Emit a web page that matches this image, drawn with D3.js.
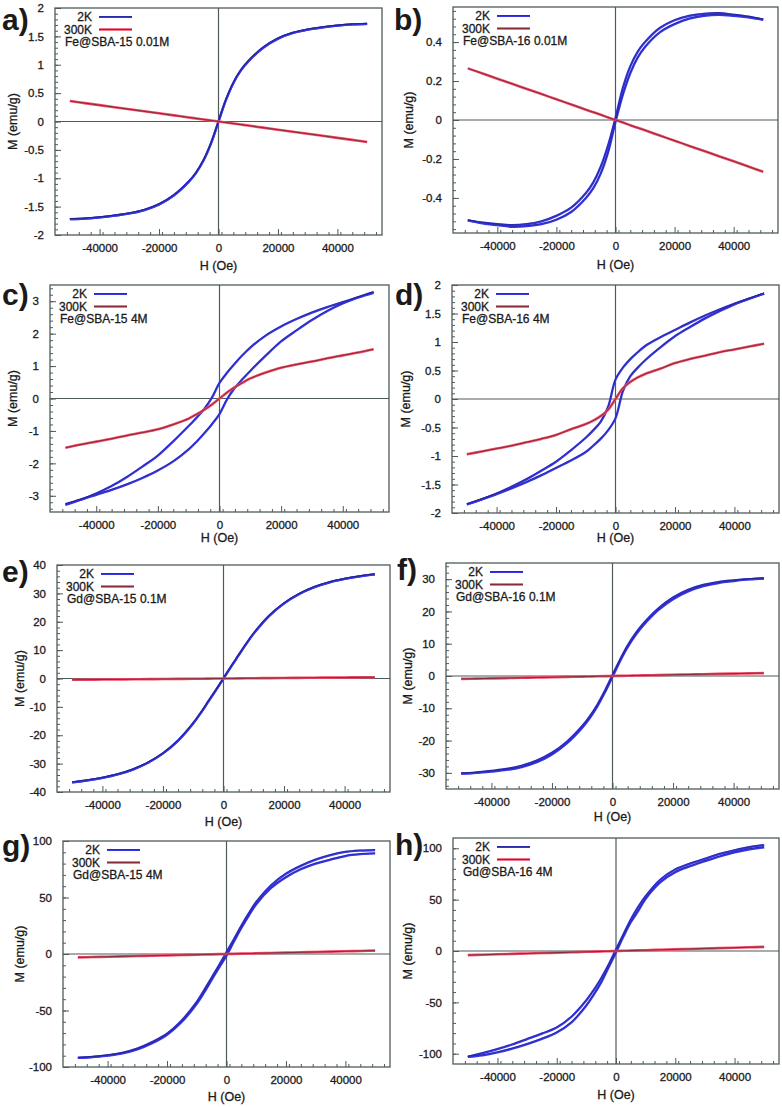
<!DOCTYPE html>
<html>
<head>
<meta charset="utf-8">
<script src="https://cdn.jsdelivr.net/npm/d3@7"></script>
<style>
  html, body { margin: 0; padding: 0; background: #fff; }
  svg { display: block; }
  text { font-family: "Liberation Sans", Arial, Helvetica, sans-serif; fill: #1a1a1a; }
</style>
</head>
<body>
<svg id="chart" width="782" height="1107"></svg>
<script>
// ---------------- DATA ----------------
// Field grid (Oe) shared by every curve
const H = [-50000,-45000,-40000,-35000,-30000,-25000,-20000,-15000,-10000,-7500,-5000,-2500,0,
           2500,5000,7500,10000,15000,20000,25000,30000,35000,40000,45000,50000];

const xTicks = [-40000,-20000,0,20000,40000];

// a) Fe@SBA-15 0.01M
const a2Kdesc = [-1.72,-1.71,-1.69,-1.66,-1.62,-1.56,-1.46,-1.30,-1.06,-0.90,-0.68,-0.38,0,0.38,0.68,0.90,1.06,1.30,1.46,1.56,1.62,1.66,1.69,1.71,1.72];
const a2Kasc  = [-1.72,-1.71,-1.69,-1.66,-1.62,-1.56,-1.46,-1.30,-1.06,-0.90,-0.68,-0.38,0,0.38,0.68,0.90,1.06,1.30,1.46,1.56,1.62,1.66,1.69,1.71,1.72];
const a300K   = [0.36,0.324,0.288,0.252,0.216,0.18,0.144,0.108,0.072,0.054,0.036,0.018,0,-0.018,-0.036,-0.054,-0.072,-0.108,-0.144,-0.18,-0.216,-0.252,-0.288,-0.324,-0.36];
const aYTicks = [-2,-1.5,-1,-0.5,0,0.5,1,1.5,2];

// b) Fe@SBA-16 0.01M
const b2Kdesc = [-0.515,-0.527,-0.535,-0.54,-0.535,-0.52,-0.492,-0.45,-0.375,-0.32,-0.24,-0.13,0.01,0.165,0.275,0.35,0.40,0.472,0.512,0.535,0.545,0.548,0.54,0.53,0.515];
const b2Kasc  = [-0.515,-0.53,-0.54,-0.548,-0.545,-0.535,-0.512,-0.472,-0.40,-0.35,-0.275,-0.165,-0.01,0.13,0.24,0.32,0.375,0.45,0.492,0.52,0.535,0.54,0.535,0.527,0.515];
const b300K   = [0.265,0.239,0.212,0.186,0.159,0.133,0.106,0.08,0.053,0.04,0.027,0.013,0,-0.013,-0.027,-0.04,-0.053,-0.08,-0.106,-0.133,-0.159,-0.186,-0.212,-0.239,-0.266];
const bYTicks = [-0.4,-0.2,0,0.2,0.4];

// c) Fe@SBA-15 4M
const c2Kdesc = [-3.28,-3.12,-2.93,-2.70,-2.42,-2.10,-1.76,-1.32,-0.85,-0.60,-0.33,0.02,0.48,0.80,1.08,1.34,1.57,1.94,2.22,2.45,2.65,2.82,2.97,3.12,3.26];
const c2Kasc  = [-3.26,-3.12,-2.97,-2.82,-2.65,-2.45,-2.22,-1.94,-1.57,-1.34,-1.08,-0.80,-0.48,-0.02,0.33,0.60,0.85,1.32,1.76,2.10,2.42,2.70,2.93,3.12,3.28];
const c300K   = [-1.52,-1.42,-1.33,-1.24,-1.14,-1.05,-0.95,-0.80,-0.62,-0.49,-0.35,-0.19,0,0.19,0.35,0.49,0.62,0.80,0.95,1.05,1.14,1.24,1.33,1.42,1.52];
const cYTicks = [-3,-2,-1,0,1,2,3];

// d) Fe@SBA-16 4M
const d2Kdesc = [-1.85,-1.76,-1.66,-1.54,-1.41,-1.26,-1.10,-0.90,-0.68,-0.55,-0.40,-0.14,0.34,0.55,0.70,0.82,0.93,1.08,1.21,1.34,1.46,1.57,1.67,1.76,1.85];
const d2Kasc  = [-1.85,-1.76,-1.67,-1.57,-1.46,-1.34,-1.21,-1.08,-0.93,-0.82,-0.70,-0.55,-0.34,0.14,0.40,0.55,0.68,0.90,1.10,1.26,1.41,1.54,1.66,1.76,1.85];
const d300K   = [-0.97,-0.92,-0.87,-0.82,-0.76,-0.70,-0.63,-0.53,-0.44,-0.38,-0.30,-0.19,0,0.19,0.30,0.38,0.44,0.53,0.63,0.70,0.76,0.82,0.87,0.92,0.97];
const dYTicks = [-2,-1.5,-1,-0.5,0,0.5,1,1.5,2];

// e) Gd@SBA-15 0.1M
const e2Kdesc = [-36.6,-35.9,-35.0,-33.8,-32.1,-29.7,-26.4,-21.9,-15.8,-12.1,-8.1,-4.1,0,4.2,8.2,12.2,15.9,22.0,26.5,29.8,32.2,33.9,35.1,36.0,36.7];
const e2Kasc  = [-36.6,-35.9,-35.0,-33.8,-32.1,-29.7,-26.4,-21.9,-15.8,-12.1,-8.1,-4.1,0,4.2,8.2,12.2,15.9,22.0,26.5,29.8,32.2,33.9,35.1,36.0,36.7];
const e300K   = [-0.45,-0.40,-0.36,-0.32,-0.27,-0.23,-0.18,-0.14,-0.09,-0.07,-0.05,-0.02,0,0.02,0.05,0.07,0.09,0.14,0.18,0.23,0.27,0.32,0.36,0.40,0.45];
const eYTicks = [-40,-30,-20,-10,0,10,20,30,40];

// f) Gd@SBA-16 0.1M
const f2Kdesc = [-30.2,-29.9,-29.4,-28.8,-27.8,-26.2,-23.8,-20.3,-15.5,-12.5,-8.9,-4.6,0.25,5.05,9.4,13.0,16.0,20.8,24.3,26.7,28.2,29.1,29.6,30.0,30.25];
const f2Kasc  = [-30.25,-30.0,-29.6,-29.1,-28.2,-26.7,-24.3,-20.8,-16.0,-13.0,-9.4,-5.05,-0.25,4.6,8.9,12.5,15.5,20.3,23.8,26.2,27.8,28.8,29.4,29.9,30.2];
const f300K   = [-0.9,-0.82,-0.74,-0.65,-0.56,-0.47,-0.38,-0.28,-0.19,-0.14,-0.09,-0.05,0,0.05,0.09,0.14,0.19,0.28,0.38,0.47,0.56,0.65,0.74,0.82,0.9];
const fYTicks = [-30,-20,-10,0,10,20,30];

// g) Gd@SBA-15 4M
const g2Kdesc = [-92,-91,-89.7,-87.5,-83.8,-78,-70.5,-58.7,-42.5,-32,-21,-10,1.5,13,25,36,46,60.8,71,78,83.5,87.5,90.3,91.5,92];
const g2Kasc  = [-92,-91.3,-90,-88,-84.5,-79,-71.5,-60,-44,-34,-23,-12,-1.5,11,23,34,44,58.4,68,75,80,83.5,86.7,88.3,89];
const g300K   = [-3,-2.7,-2.4,-2.1,-1.8,-1.5,-1.2,-0.9,-0.6,-0.45,-0.3,-0.15,0,0.15,0.3,0.45,0.6,0.9,1.2,1.5,1.8,2.1,2.4,2.7,3];
const gYTicks = [-100,-50,0,50,100];

// h) Gd@SBA-16 4M
const h2Kdesc = [-103,-99.5,-95.5,-91,-85.8,-80.5,-74.5,-64,-48,-38,-26.5,-13.5,1.5,16,30.7,43,53.4,69.6,79.3,85,89.6,94.5,98,101,103];
const h2Kasc  = [-103,-101.5,-98.7,-95,-90.6,-85.5,-79.3,-69.4,-53,-42.5,-30.5,-16,-1.5,14,28,39,50.8,67,76.7,82.5,87.4,92,96,99,101];
const h300K   = [-4,-3.6,-3.2,-2.8,-2.4,-2,-1.6,-1.2,-0.8,-0.6,-0.4,-0.2,0,0.2,0.4,0.6,0.8,1.2,1.6,2,2.4,2.8,3.2,3.6,4];
const hYTicks = [-100,-50,0,50,100];

const panelLabels  = ["a)","b)","c)","d)","e)","f)","g)","h)"];
const sampleNames  = ["Fe@SBA-15 0.01M","Fe@SBA-16 0.01M","Fe@SBA-15 4M","Fe@SBA-16 4M",
                      "Gd@SBA-15 0.1M","Gd@SBA-16 0.1M","Gd@SBA-15 4M","Gd@SBA-16 4M"];
const seriesNames  = ["2K","300K"];
const xTitle = "H (Oe)";
const yTitle = "M (emu/g)";

// ---------------- LAYOUT (positions only) ----------------
const layout = [
  {x0:55,  x1:382, y0:8,   y1:235,  yDom:[-2,2],       labX:2,   labY:30,  yTitleX:13,  xTitleY:270},
  {x0:453, x1:778, y0:7,   y1:233,  yDom:[-0.58,0.58], labX:394, labY:30,  yTitleX:409, xTitleY:269},
  {x0:50,  x1:389, y0:285, y1:512,  yDom:[-3.5,3.5],   labX:2,   labY:305, yTitleX:13,  xTitleY:542},
  {x0:452, x1:779, y0:285, y1:513,  yDom:[-2,2],       labX:395, labY:305, yTitleX:406, xTitleY:542},
  {x0:57,  x1:390, y0:565, y1:792,  yDom:[-40,40],     labX:2,   labY:582, yTitleX:20,  xTitleY:826},
  {x0:446, x1:779, y0:563, y1:789,  yDom:[-35,35],     labX:397, labY:580, yTitleX:408, xTitleY:821},
  {x0:63,  x1:390, y0:841, y1:1067, yDom:[-100,100],   labX:2,   labY:856, yTitleX:20,  xTitleY:1101},
  {x0:453, x1:779, y0:838, y1:1064, yDom:[-110,110],   labX:395, labY:855, yTitleX:408, xTitleY:1099}
];

const panelData = [
  {desc:a2Kdesc, asc:a2Kasc, hot:a300K, yTicks:aYTicks},
  {desc:b2Kdesc, asc:b2Kasc, hot:b300K, yTicks:bYTicks},
  {desc:c2Kdesc, asc:c2Kasc, hot:c300K, yTicks:cYTicks},
  {desc:d2Kdesc, asc:d2Kasc, hot:d300K, yTicks:dYTicks},
  {desc:e2Kdesc, asc:e2Kasc, hot:e300K, yTicks:eYTicks},
  {desc:f2Kdesc, asc:f2Kasc, hot:f300K, yTicks:fYTicks},
  {desc:g2Kdesc, asc:g2Kasc, hot:g300K, yTicks:gYTicks},
  {desc:h2Kdesc, asc:h2Kasc, hot:h300K, yTicks:hYTicks}
];

// ---------------- DRAW ----------------
const svg = d3.select("#chart");
const AX = "#4f5a5a";
const BLUE = "#3636e8", BLUE_DARK = "#1a1a55";
const RED = "#ee4a66", RED_DARK = "#3a1212";
const TXT_STROKE = 0.3;

layout.forEach((L, i) => {
  const P = panelData[i];
  const g = svg.append("g");
  const x = d3.scaleLinear().domain([-55000, 55000]).range([L.x0, L.x1]);
  const y = d3.scaleLinear().domain(L.yDom).range([L.y1, L.y0]);

  // minor ticks
  const xStep = xTicks[1] - xTicks[0];
  const xMinor = d3.range(-55000, 55001, xStep / 5).filter(v => v > -55000 && v < 55000);
  const yStep = P.yTicks[1] - P.yTicks[0];
  const yMinorStep = yStep / 5;
  const nMin = Math.ceil(L.yDom[0] / yMinorStep - 1e-6), nMax = Math.floor(L.yDom[1] / yMinorStep + 1e-6);
  const yMinor = d3.range(nMin, nMax + 1).map(k => k * yMinorStep).filter(v => v > L.yDom[0] + 1e-9 && v < L.yDom[1] - 1e-9);

  // bottom axis with inward ticks
  const xAxis = d3.axisBottom(x).tickValues(xTicks).tickSize(-6).tickPadding(9).tickFormat(d => String(d));
  const gx = g.append("g").attr("transform", `translate(0,${L.y1})`).call(xAxis);
  gx.select(".domain").remove();
  gx.selectAll(".tick line").attr("stroke", AX).attr("stroke-width", 1);
  gx.selectAll(".tick text").attr("font-size", 11.5).attr("fill", "#1a1a1a").attr("dy", "0.71em");
  const gxm = g.append("g").attr("transform", `translate(0,${L.y1})`)
    .call(d3.axisBottom(x).tickValues(xMinor).tickSize(-3).tickFormat(""));
  gxm.select(".domain").remove();
  gxm.selectAll(".tick line").attr("stroke", AX).attr("stroke-width", 1);

  // left axis with inward ticks
  const yAxis = d3.axisLeft(y).tickValues(P.yTicks).tickSize(-6).tickPadding(11).tickFormat(d => String(d));
  const gy = g.append("g").attr("transform", `translate(${L.x0},0)`).call(yAxis);
  gy.select(".domain").remove();
  gy.selectAll(".tick line").attr("stroke", AX).attr("stroke-width", 1);
  gy.selectAll(".tick text").attr("font-size", 11.5).attr("fill", "#1a1a1a");
  const gym = g.append("g").attr("transform", `translate(${L.x0},0)`)
    .call(d3.axisLeft(y).tickValues(yMinor).tickSize(-3).tickFormat(""));
  gym.select(".domain").remove();
  gym.selectAll(".tick line").attr("stroke", AX).attr("stroke-width", 1);
  g.selectAll(".tick text").attr("font-family", "Liberation Sans, Arial, sans-serif")
    .attr("stroke", "#1a1a1a").attr("stroke-width", TXT_STROKE);

  // zero axes
  g.append("line").attr("x1", x(0)).attr("x2", x(0)).attr("y1", L.y0).attr("y2", L.y1)
    .attr("stroke", AX).attr("stroke-width", 1.2);
  g.append("line").attr("x1", L.x0).attr("x2", L.x1).attr("y1", y(0)).attr("y2", y(0))
    .attr("stroke", AX).attr("stroke-width", 1.2);

  // frame
  g.append("rect").attr("x", L.x0).attr("y", L.y0).attr("width", L.x1 - L.x0).attr("height", L.y1 - L.y0)
    .attr("fill", "none").attr("stroke", AX).attr("stroke-width", 1.3);

  // curves
  const line = d3.line().x((d, k) => x(H[k])).y(d => y(d)).curve(d3.curveCatmullRom.alpha(0.5));
  const clipId = "clip" + i;
  g.append("clipPath").attr("id", clipId).append("rect")
    .attr("x", L.x0).attr("y", L.y0).attr("width", L.x1 - L.x0).attr("height", L.y1 - L.y0);
  const cg = g.append("g").attr("clip-path", `url(#${clipId})`);

  [P.desc, P.asc].forEach(arr => {
    cg.append("path").attr("d", line(arr)).attr("fill", "none")
      .attr("stroke", BLUE).attr("stroke-width", 2.3).attr("stroke-linejoin", "round");
  });
  [P.desc, P.asc].forEach(arr => {
    cg.append("path").attr("d", line(arr)).attr("fill", "none").attr("transform", "translate(0,-0.6)")
      .attr("stroke", BLUE_DARK).attr("stroke-width", 0.7).attr("stroke-opacity", 0.6);
  });
  cg.append("path").attr("d", line(P.hot)).attr("fill", "none")
    .attr("stroke", RED).attr("stroke-width", 2.6);
  cg.append("path").attr("d", line(P.hot)).attr("fill", "none")
    .attr("stroke", RED_DARK).attr("stroke-width", 0.8).attr("stroke-opacity", 0.7);

  // legend
  const lg = g.append("g");
  lg.append("text").attr("x", L.x0 + 37).attr("y", L.y0 + 13).attr("text-anchor", "end")
    .attr("font-size", 12).attr("stroke", "#1a1a1a").attr("stroke-width", TXT_STROKE).text(seriesNames[0]);
  lg.append("text").attr("x", L.x0 + 37).attr("y", L.y0 + 25.5).attr("text-anchor", "end")
    .attr("font-size", 12).attr("stroke", "#1a1a1a").attr("stroke-width", TXT_STROKE).text(seriesNames[1]);
  lg.append("line").attr("x1", L.x0 + 44).attr("x2", L.x0 + 77).attr("y1", L.y0 + 9).attr("y2", L.y0 + 9)
    .attr("stroke", BLUE).attr("stroke-width", 2.2);
  lg.append("line").attr("x1", L.x0 + 44).attr("x2", L.x0 + 77).attr("y1", L.y0 + 8.5).attr("y2", L.y0 + 8.5)
    .attr("stroke", BLUE_DARK).attr("stroke-width", 0.7).attr("stroke-opacity", 0.6);
  lg.append("line").attr("x1", L.x0 + 44).attr("x2", L.x0 + 77).attr("y1", L.y0 + 21.5).attr("y2", L.y0 + 21.5)
    .attr("stroke", RED).attr("stroke-width", 2.6);
  lg.append("line").attr("x1", L.x0 + 44).attr("x2", L.x0 + 77).attr("y1", L.y0 + 21.5).attr("y2", L.y0 + 21.5)
    .attr("stroke", RED_DARK).attr("stroke-width", 0.8).attr("stroke-opacity", 0.7);
  lg.append("text").attr("x", L.x0 + 10).attr("y", L.y0 + 37.5)
    .attr("font-size", 12).attr("stroke", "#1a1a1a").attr("stroke-width", TXT_STROKE).text(sampleNames[i]);

  // axis titles
  g.append("text").attr("x", x(0)).attr("y", L.xTitleY)
    .attr("text-anchor", "middle").attr("font-size", 12.5)
    .attr("stroke", "#1a1a1a").attr("stroke-width", TXT_STROKE).text(xTitle);
  g.append("text").attr("transform", `translate(${L.yTitleX + 4},${(L.y0 + L.y1) / 2}) rotate(-90)`)
    .attr("text-anchor", "middle").attr("font-size", 12.5)
    .attr("stroke", "#1a1a1a").attr("stroke-width", TXT_STROKE).text(yTitle);

  // panel label
  g.append("text").attr("x", L.labX).attr("y", L.labY).attr("font-size", 30).attr("font-weight", "bold")
    .attr("fill", "#000").text(panelLabels[i]);
});
</script>
</body>
</html>
